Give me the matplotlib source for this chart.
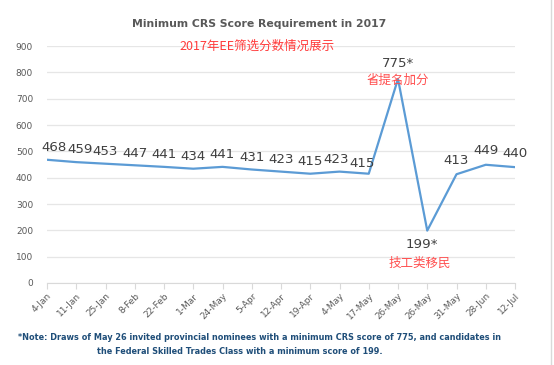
import matplotlib.pyplot as plt
from matplotlib.lines import Line2D

plt.rcParams['font.family'] = ['DejaVu Sans', 'Noto Sans CJK SC']

fechas = ["4-Jan", "11-Jan", "25-Jan", "8-Feb", "22-Feb", "1-Mar", "24-May", "5-Apr",
          "12-Apr", "19-Apr", "4-May", "17-May", "26-May", "26-May", "31-May", "28-Jun", "12-Jul"]
puntajes = [468, 459, 453, 447, 441, 434, 441, 431, 423, 415, 423, 415, 775, 199, 413, 449, 440]
etiquetas = ["468", "459", "453", "447", "441", "434", "441", "431", "423", "415", "423", "415",
             "775*", "199*", "413", "449", "440"]
# desplazamientos de etiquetas (pixeles)
offsets = [(7, 12), (4, 13), (0, 12), (0, 12), (0, 12), (0, 12), (0, 12), (0, 12),
           (0, 12), (0, 12), (-3, 12), (-7, 10), (0, 15), (-5, -14), (0, 14), (0, 14), (0, 14)]

fig = plt.figure(figsize=(5.54, 3.65), dpi=100)
ax = fig.add_axes([47 / 554, 1 - 283 / 365, (515 - 47) / 554, (283 - 46) / 365])

x = list(range(len(fechas)))
ax.plot(x, puntajes, color='#5B9BD5', lw=1.6)

for i, (v, t) in enumerate(zip(puntajes, etiquetas)):
    ax.annotate(t, (i, v), xytext=offsets[i], textcoords='offset pixels',
                ha='center', va='center', fontsize=9.6, color='#404040')

ax.annotate("省提名加分", (12, 775), xytext=(0, -1), textcoords='offset pixels',
            ha='center', va='center', fontsize=9, color='#FF5050', family=['Noto Sans CJK SC'])
ax.annotate("技工类移民", (13, 199), xytext=(-7, -33), textcoords='offset pixels',
            ha='center', va='center', fontsize=9, color='#FF5050', family=['Noto Sans CJK SC'])

ax.set_xlim(0, len(fechas) - 1)
ax.set_ylim(0, 900)
ax.set_yticks(range(0, 1000, 100))
ax.set_xticks(x)
ax.set_xticklabels(fechas, rotation=45, ha='right', rotation_mode='anchor', fontsize=6.5, color='#595959')
ax.tick_params(axis='y', length=0, labelsize=6.5, labelcolor='#595959', pad=10)
ax.tick_params(axis='x', length=4, color='#D9D9D9', pad=2)
ax.grid(axis='y', color='#E6E6E6', lw=0.9)
ax.set_axisbelow(True)
for s in ['top', 'right', 'left']:
    ax.spines[s].set_visible(False)
ax.spines['bottom'].set_color('#D9D9D9')

fig.text(259 / 554, 1 - 24 / 365, "Minimum CRS Score Requirement in 2017", ha='center', va='center',
         fontsize=7.8, fontweight='bold', color='#595959')
fig.text(257 / 554, 1 - 46 / 365, "2017年EE筛选分数情况展示", ha='center', va='center',
         fontsize=9, color='#FF3B3B', family=['Noto Sans CJK SC', 'DejaVu Sans'])

fig.text(259 / 554, 1 - 338 / 365,
         "*Note: Draws of May 26 invited provincial nominees with a minimum CRS score of 775, and candidates in",
         ha='center', va='center', fontsize=5.9, fontweight='bold', color='#1F4E79')
fig.text(240 / 554, 1 - 352 / 365,
         "the Federal Skilled Trades Class with a minimum score of 199.",
         ha='center', va='center', fontsize=5.9, fontweight='bold', color='#1F4E79')

fig.add_artist(Line2D([551 / 554, 551 / 554], [0, 1], transform=fig.transFigure, color='#D9D9D9', lw=1))

fig.savefig('out.png', dpi=100)
